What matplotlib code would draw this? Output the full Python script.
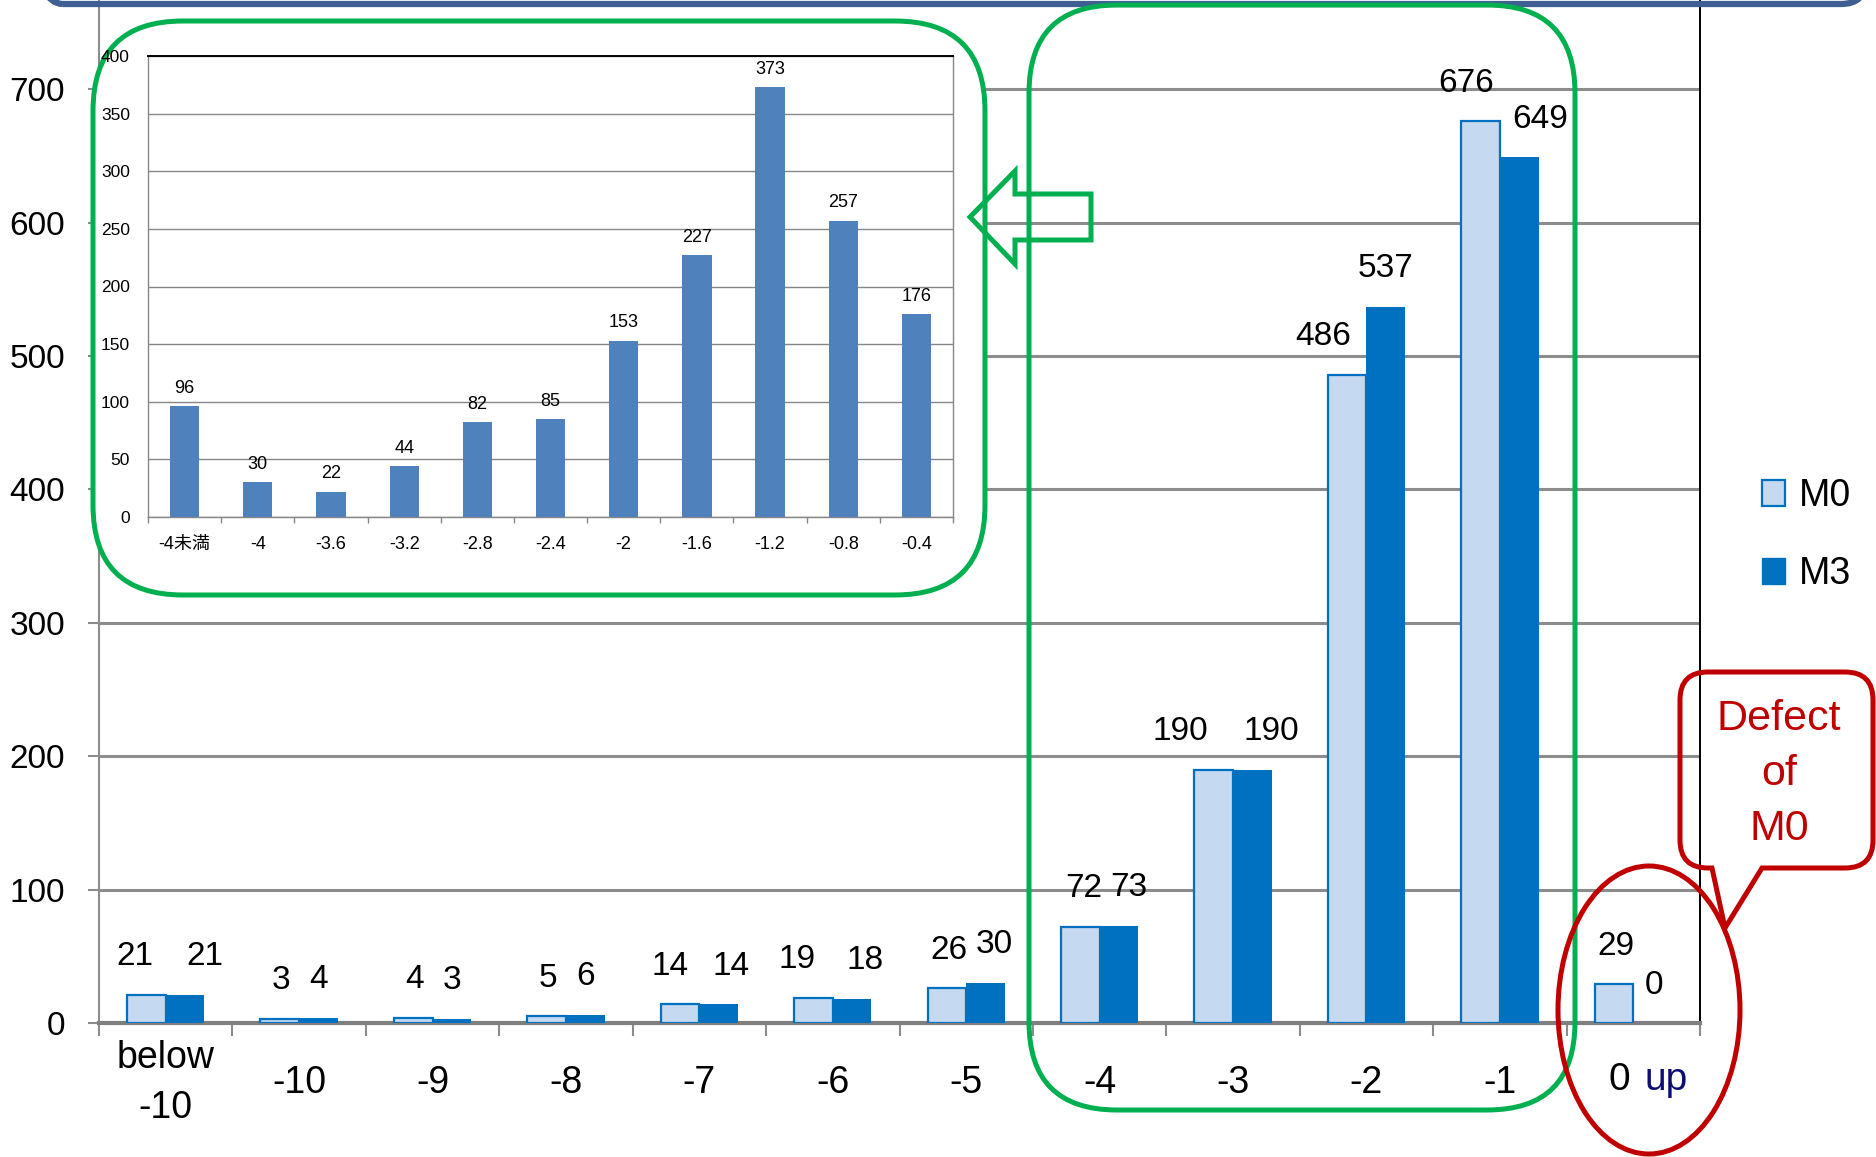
import numpy as np
import matplotlib
matplotlib.use('Agg')
import matplotlib.pyplot as plt
from matplotlib.patches import Patch, FancyBboxPatch, Ellipse, PathPatch, Polygon
from matplotlib.path import Path
from matplotlib.transforms import IdentityTransform

W, H = 1876, 1157
SANS = ['Liberation Sans', 'Noto Sans CJK JP', 'DejaVu Sans']

# main histogram: M0 vs M3
categories = ['below\n-10', '-10', '-9', '-8', '-7', '-6', '-5', '-4', '-3', '-2', '-1', '0 up']
m0 = [21, 3, 4, 5, 14, 19, 26, 72, 190, 486, 676, 29]
m3 = [21, 4, 3, 6, 14, 18, 30, 73, 190, 537, 649, 0]

# detail of the -4 .. 0 range
sub_categories = ['-4未満', '-4', '-3.6', '-3.2', '-2.8', '-2.4', '-2', '-1.6', '-1.2', '-0.8', '-0.4']
sub_counts = [96, 30, 22, 44, 82, 85, 153, 227, 373, 257, 176]

# sideways nudges (pixels) for the value labels so the pairs don't collide
m0_dx = [-11, 1, 1, 1, -10, -16, 2, 3, -33, -24, -14, 2]
m3_dx = [20, 0, 0, 0, 12, 13, 9, 10, 19, 0, 21, 1]

LIGHT = '#C5D9F1'
BLUE = '#0070C0'
INSET_BLUE = '#4F81BD'
GREEN = '#00B050'
RED = '#C00000'
GRID = '#8C8C8C'

fig = plt.figure(figsize=(W / 100, H / 100), dpi=100)
fig.patch.set_facecolor('white')

# ---- main chart ----
ax = fig.add_axes([99 / W, (H - 1023) / H, (1700 - 99) / W, 1023 / H])
x = np.arange(len(categories))
bw = 0.29
ax.bar(x - bw / 2, m0, bw, color=LIGHT, edgecolor=BLUE, linewidth=1.6, zorder=3)
ax.bar(x + bw / 2, m3, bw, color=BLUE, linewidth=0, zorder=3)
ax.set_xlim(-0.5, len(categories) - 0.5)
ax.set_ylim(0, 767)
ax.set_yticks(range(0, 800, 100))
ax.yaxis.grid(True, color=GRID, lw=2.2)
ax.set_axisbelow(True)

for i in range(len(categories)):
    ax.annotate(str(m0[i]), (x[i] - bw / 2, m0[i]), xytext=(m0_dx[i], 38),
                textcoords='offset pixels', ha='center', va='center',
                fontsize=24, family=SANS, annotation_clip=False)
    ax.annotate(str(m3[i]), (x[i] + bw / 2, m3[i]), xytext=(m3_dx[i], 38),
                textcoords='offset pixels', ha='center', va='center',
                fontsize=24, family=SANS, annotation_clip=False)

ax.set_xticks(x)
ax.set_xticklabels(categories[:-1] + [''], va='center', fontsize=27, family=SANS)
for t in ax.get_xticklabels():
    t.set_linespacing(1.5)
ax.tick_params(axis='x', which='major', length=0, pad=43)
ax.set_xticks(np.arange(-0.5, len(categories), 1), minor=True)
ax.tick_params(axis='x', which='minor', length=9.4, width=1.5, color=GRID)
ax.tick_params(axis='y', length=8, width=1.5, color=GRID, pad=16.5, labelsize=24)
for t in ax.get_yticklabels():
    t.set_fontfamily(SANS)

# last category label: "0" black, "up" navy
zero, up = categories[-1].split()
ax.annotate(zero, (x[-1], 0), xytext=(-14, -57), textcoords='offset pixels',
            ha='center', va='center', fontsize=28, family=SANS, annotation_clip=False)
ax.annotate(up, (x[-1], 0), xytext=(33, -57), textcoords='offset pixels',
            ha='center', va='center', fontsize=28, family=SANS, color='#0D0D73',
            annotation_clip=False)

ax.spines['top'].set_visible(False)
ax.spines['left'].set_color(GRID)
ax.spines['left'].set_linewidth(1.5)
ax.spines['bottom'].set_color('#808080')
ax.spines['bottom'].set_linewidth(3)
ax.spines['right'].set_color('black')
ax.spines['right'].set_linewidth(1.4)

fig.legend(handles=[Patch(facecolor=LIGHT, edgecolor=BLUE, lw=1.6, label='M0'),
                    Patch(facecolor=BLUE, edgecolor=BLUE, label='M3')],
           loc='center left', bbox_to_anchor=(1762 / W, 1 - 535 / H),
           frameon=False, prop={'family': SANS, 'size': 27},
           handlelength=0.62, handleheight=0.72, handletextpad=0.35,
           labelspacing=1.12, borderpad=0, borderaxespad=0)


# ---- shapes drawn in pixel space (y measured from the top) ----
def P(px, py):
    return (px, H - py)


def rounded_box(x0, y0, x1, y1, r, **kw):
    p = FancyBboxPatch(P(x0, y1), x1 - x0, y1 - y0,
                       boxstyle=f'round,pad=0,rounding_size={r}',
                       transform=IdentityTransform(), **kw)
    fig.add_artist(p)
    return p


# title box edge along the top
rounded_box(38, -80, 1866, 4, 25, fill=False, edgecolor='#3F5F93', lw=4.5, zorder=6)

# frame around the detail chart (white, hides the main grid)
rounded_box(93, 21, 985, 595, 90, facecolor='white', edgecolor=GREEN, lw=3.6, zorder=1)

# frame around -4 .. -1
rounded_box(1029, 5, 1575, 1110, 88, fill=False, edgecolor=GREEN, lw=3.6, zorder=6)

# outline arrow pointing to the detail chart
arrow_pts = [P(970, 217), P(1015, 171), P(1015, 194), P(1091, 194),
             P(1091, 240), P(1015, 240), P(1015, 264)]
fig.add_artist(Polygon(arrow_pts, closed=True, fill=False, edgecolor=GREEN,
                       lw=3.6, joinstyle='miter', transform=IdentityTransform(), zorder=6))

# ellipse around "0 up"
fig.add_artist(Ellipse(P(1649, 1010), 182, 288, fill=False, edgecolor=RED, lw=3.6,
                       transform=IdentityTransform(), zorder=6))

# speech bubble
bx0, by0, bx1, by1, r = 1680, 672, 1873, 868, 28
verts = [P(1712, by1), P(1725, 928), P(1762, by1),
         P(bx1 - r, by1), P(bx1, by1), P(bx1, by1 - r),
         P(bx1, by0 + r), P(bx1, by0), P(bx1 - r, by0),
         P(bx0 + r, by0), P(bx0, by0), P(bx0, by0 + r),
         P(bx0, by1 - r), P(bx0, by1), P(bx0 + r, by1),
         P(1712, by1)]
codes = [Path.MOVETO, Path.LINETO, Path.LINETO,
         Path.LINETO, Path.CURVE3, Path.CURVE3,
         Path.LINETO, Path.CURVE3, Path.CURVE3,
         Path.LINETO, Path.CURVE3, Path.CURVE3,
         Path.LINETO, Path.CURVE3, Path.CURVE3,
         Path.CLOSEPOLY]
fig.add_artist(PathPatch(Path(verts, codes), fill=False, edgecolor=RED, lw=3.6,
                         transform=IdentityTransform(), zorder=6))
fig.text(*P(1779, 774), 'Defect\nof\nM0', transform=IdentityTransform(),
         ha='center', va='center', color=RED, fontsize=31, family=SANS,
         linespacing=1.5, zorder=7)

# ---- detail chart ----
axi = fig.add_axes([148 / W, (H - 517) / H, (953 - 148) / W, (517 - 56) / H])
axi.set_zorder(2)
xi = np.arange(len(sub_categories))
axi.bar(xi, sub_counts, 0.4, color=INSET_BLUE, zorder=3)
axi.set_xlim(-0.5, len(sub_categories) - 0.5)
axi.set_ylim(0, 400)
axi.set_yticks(range(0, 401, 50))
axi.yaxis.grid(True, color='#868686', lw=1)
axi.set_axisbelow(True)
for i, v in enumerate(sub_counts):
    axi.annotate(str(v), (xi[i], v), xytext=(0, 18), textcoords='offset pixels',
                 ha='center', va='center', fontsize=13, family=SANS, annotation_clip=False)
axi.set_xticks(xi)
axi.set_xticklabels(sub_categories, va='center', fontsize=13, family=SANS)
axi.tick_params(axis='x', which='major', length=0, pad=19.5)
axi.set_xticks(np.arange(-0.5, len(sub_categories), 1), minor=True)
axi.tick_params(axis='x', which='minor', length=4.3, width=1, color='#868686')
axi.tick_params(axis='y', length=0, pad=13, labelsize=12.5)
for t in axi.get_yticklabels():
    t.set_fontfamily(SANS)
axi.spines['top'].set_color('black')
axi.spines['top'].set_linewidth(1.4)
for s in ('left', 'right', 'bottom'):
    axi.spines[s].set_color('#868686')
    axi.spines[s].set_linewidth(1)

fig.savefig('out.png', dpi=100)
